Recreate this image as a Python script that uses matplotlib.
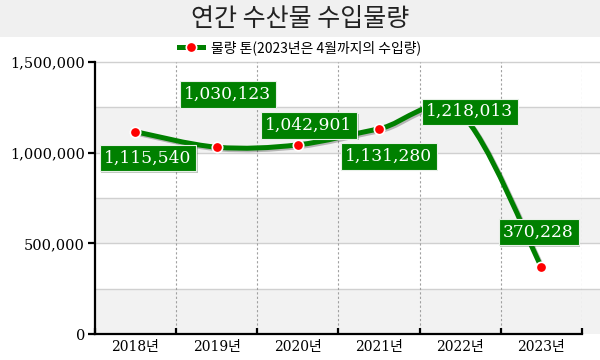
#!/usr/bin/env python3
"""Annual seafood import volume (yearly line chart, smoothed line through the points)."""

import matplotlib
matplotlib.use("Agg")
import matplotlib.pyplot as plt
import matplotlib.patheffects as pe
from matplotlib.lines import Line2D
from matplotlib.patches import PathPatch, Rectangle
from matplotlib.path import Path

# --- data ---
years = ["2018년", "2019년", "2020년", "2021년", "2022년", "2023년"]
volume = [1115540, 1030123, 1042901, 1131280, 1218013, 370228]
title = "연간 수산물 수입물량"
series_name = "물량 톤(2023년은 4월까지의 수입량)"

# label offsets in points (dx, dy) from each marker
label_offsets = [(9, -19), (8, 38), (8, 14), (7, -20), (7, 1), (-2, 25)]

GREEN = "#008000"
SERIF_KR = ["DejaVu Serif", "Noto Sans CJK KR"]
SANS_KR = ["Noto Sans CJK KR", "DejaVu Sans"]

plt.rcParams["font.family"] = SERIF_KR


def spline_path(xs, ys):
    """Catmull-Rom curve through the points, as cubic bezier segments."""
    n = len(xs)
    # pad the ends by repeating the end points
    px = [xs[0]] + list(xs) + [xs[-1]]
    py = [ys[0]] + list(ys) + [ys[-1]]
    verts = [(xs[0], ys[0])]
    codes = [Path.MOVETO]
    for i in range(1, n):
        k = i + 1  # index of current point in padded list
        c1 = (px[k - 1] + (px[k] - px[k - 2]) / 6, py[k - 1] + (py[k] - py[k - 2]) / 6)
        c2 = (px[k] - (px[k + 1] - px[k - 1]) / 6, py[k] - (py[k + 1] - py[k - 1]) / 6)
        verts += [c1, c2, (xs[i], ys[i])]
        codes += [Path.CURVE4] * 3
    return Path(verts, codes)


fig = plt.figure(figsize=(6, 3.6), dpi=100)
fig.patches.append(Rectangle((0, 0.897), 1, 0.103, transform=fig.transFigure,
                             facecolor="#f0f0f0", edgecolor="none", zorder=0))
fig.text(0.5, 0.948, title, ha="center", va="center", fontsize=18,
         family=SANS_KR, color="#222222")

ax = fig.add_axes([0.158, 0.072, 0.812, 0.756])
x = list(range(len(years)))
ax.set_xlim(-0.5, len(years) - 0.5)
ax.set_ylim(0, 1500000)

# alternating bands and grid lines (they run on past the plot to the edge)
xmax_ext = 1.04
for lo in (0, 500000, 1000000):
    ax.axhspan(lo, lo + 250000, xmin=0, xmax=xmax_ext, facecolor="#f2f2f2",
               edgecolor="none", clip_on=False, zorder=0)
for yv in range(250000, 1500001, 250000):
    ax.axhline(yv, xmin=0, xmax=xmax_ext, color="#d0d0d0", lw=1.0,
               clip_on=False, zorder=0.5)
for b in range(len(years)):
    ax.axvline(b + 0.5, color="#a0a0a0", lw=0.8, ls=(0, (2, 2)), zorder=0.6)

# smoothed series line with a soft shadow
patch = PathPatch(spline_path(x, volume), facecolor="none", edgecolor=GREEN,
                  lw=3.6, capstyle="round", joinstyle="round", zorder=3)
patch.set_path_effects([pe.SimpleLineShadow(offset=(1.2, -1.2), alpha=0.25,
                                            shadow_color="black"), pe.Normal()])
ax.add_patch(patch)
ax.plot(x, volume, ls="none", marker="o", ms=7.5, mfc="red", mec="white",
        mew=1.2, zorder=4)

for xi, v, (dx, dy) in zip(x, volume, label_offsets):
    t = ax.annotate(f"{v:,}", (xi, v), xytext=(dx, dy), textcoords="offset points",
                    ha="center", va="center", color="white", fontsize=12.3,
                    family="DejaVu Serif", zorder=5,
                    bbox=dict(boxstyle="square,pad=0.27", facecolor=GREEN,
                              edgecolor="#e8f0e8", lw=0.8))
    t.get_bbox_patch().set_path_effects([pe.SimplePatchShadow(offset=(1, -1), alpha=0.25),
                                         pe.Normal()])

# axes styling
for s in ("top", "right"):
    ax.spines[s].set_visible(False)
for s in ("left", "bottom"):
    ax.spines[s].set_color("black")
    ax.spines[s].set_linewidth(1.6)
ax.set_yticks([0, 500000, 1000000, 1500000])
ax.set_yticklabels([f"{v:,}" for v in [0, 500000, 1000000, 1500000]], fontsize=10.5)
ax.tick_params(axis="y", direction="out", length=5, width=1.6, pad=2)

ax.set_xticks([b - 0.5 for b in range(len(years) + 1)])
ax.set_xticklabels([])
ax.tick_params(axis="x", which="major", direction="in", length=4, width=1.6)
ax.set_xticks(x, minor=True)
ax.set_xticklabels(years, minor=True, fontsize=10)
ax.tick_params(axis="x", which="minor", length=0, pad=4)
ax.set_facecolor("none")

handle = Line2D([], [], color=GREEN, lw=3.6, marker="o", ms=7.5, mfc="red",
                mec="white", mew=1.2)
fig.legend([handle], [series_name], loc="center", bbox_to_anchor=(0.5, 0.868),
           frameon=False, handlelength=1.7, handletextpad=0.6,
           prop={"family": SANS_KR, "size": 10})

fig.savefig("out.png", dpi=100)
